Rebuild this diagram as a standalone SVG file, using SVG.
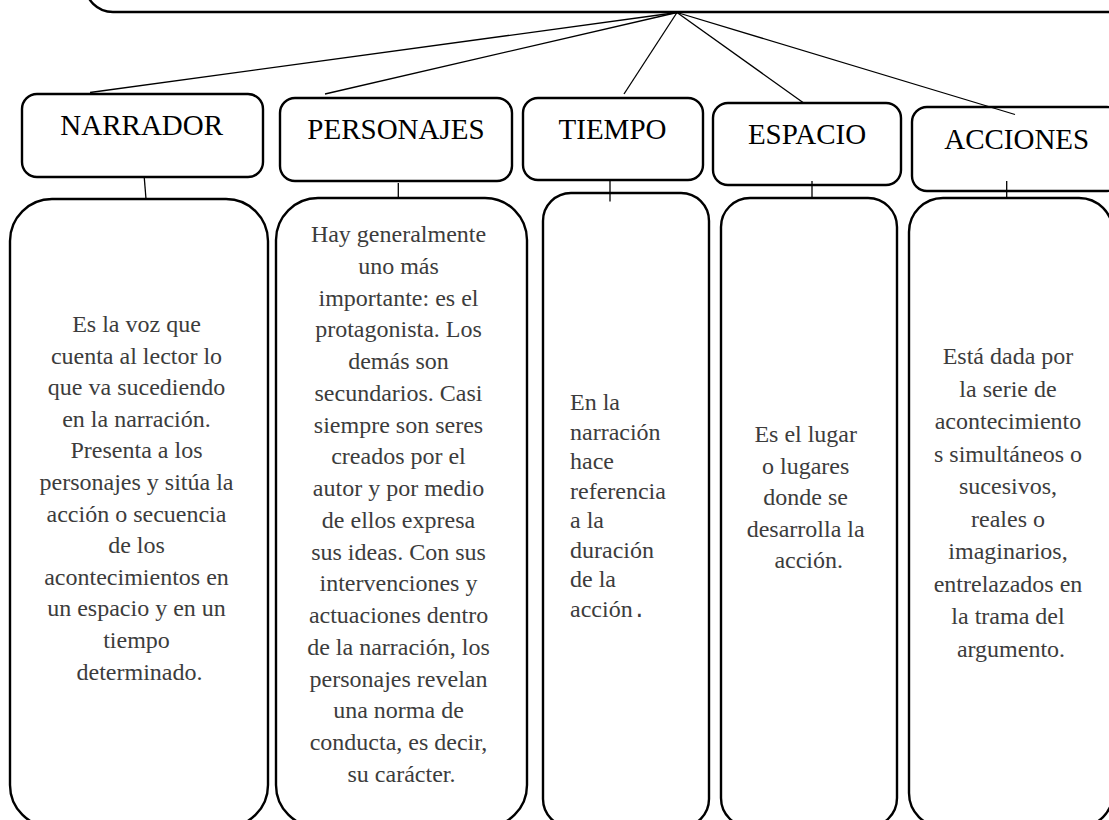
<svg xmlns="http://www.w3.org/2000/svg" width="1109" height="820" viewBox="0 0 1109 820">
<style>
.box{fill:#fff;stroke:#000;stroke-width:2.4}
.con{stroke:#000;stroke-width:1.3;fill:none}
.hd{font-family:"Liberation Serif","Times New Roman",serif;font-size:29px;fill:#000;text-anchor:middle}
.bt{font-family:"Liberation Serif","Times New Roman",serif;font-size:24px;fill:#3c3c3c;text-anchor:middle}
.bl{font-family:"Liberation Serif","Times New Roman",serif;font-size:24px;fill:#3c3c3c}
</style>
<rect width="1109" height="820" fill="#fff"/>
<g id="top">
<rect class="box" x="85" y="-80" width="1100" height="92" rx="28" ry="28"/>
</g>
<g id="h-narrador">
<rect class="box" x="22" y="94" width="241" height="83" rx="15"/>
<text class="hd" x="141.7" y="135">NARRADOR</text>
</g>
<g id="h-personajes">
<rect class="box" x="280" y="98" width="232" height="83" rx="15"/>
<text class="hd" x="396" y="138.5">PERSONAJES</text>
</g>
<g id="h-tiempo">
<rect class="box" x="523" y="98" width="180" height="82" rx="15"/>
<text class="hd" x="612.5" y="138.5">TIEMPO</text>
</g>
<g id="h-espacio">
<rect class="box" x="713" y="103" width="188" height="82" rx="15"/>
<text class="hd" x="807" y="144">ESPACIO</text>
</g>
<g id="h-acciones">
<rect class="box" x="912" y="107" width="210" height="84" rx="15"/>
<text class="hd" x="1016.7" y="148.5">ACCIONES</text>
</g>
<g id="b-narrador">
<rect class="box" x="10" y="199" width="258" height="628" rx="42"/>
<text class="bt">
<tspan x="139.5" y="332">Es la voz que</tspan>
<tspan x="139.5" y="363.6">cuenta al lector lo</tspan>
<tspan x="139.5" y="395.2">que va sucediendo</tspan>
<tspan x="139.5" y="426.8">en la narración.</tspan>
<tspan x="139.5" y="458.4">Presenta a los</tspan>
<tspan x="139.5" y="490">personajes y sitúa la</tspan>
<tspan x="139.5" y="521.6">acción o secuencia</tspan>
<tspan x="139.5" y="553.2">de los</tspan>
<tspan x="139.5" y="584.8">acontecimientos en</tspan>
<tspan x="139.5" y="616.4">un espacio y en un</tspan>
<tspan x="139.5" y="648">tiempo</tspan>
<tspan x="139.5" y="679.6">determinado.</tspan>
</text>
</g>
<g id="b-personajes">
<rect class="box" x="276" y="198" width="251" height="629" rx="42"/>
<text class="bt">
<tspan x="401.5" y="242">Hay generalmente</tspan>
<tspan x="401.5" y="273.8">uno más</tspan>
<tspan x="401.5" y="305.5">importante: es el</tspan>
<tspan x="401.5" y="337.3">protagonista. Los</tspan>
<tspan x="401.5" y="369">demás son</tspan>
<tspan x="401.5" y="400.8">secundarios. Casi</tspan>
<tspan x="401.5" y="432.5">siempre son seres</tspan>
<tspan x="401.5" y="464.3">creados por el</tspan>
<tspan x="401.5" y="496">autor y por medio</tspan>
<tspan x="401.5" y="527.8">de ellos expresa</tspan>
<tspan x="401.5" y="559.5">sus ideas. Con sus</tspan>
<tspan x="401.5" y="591.3">intervenciones y</tspan>
<tspan x="401.5" y="623">actuaciones dentro</tspan>
<tspan x="401.5" y="654.8">de la narración, los</tspan>
<tspan x="401.5" y="686.5">personajes revelan</tspan>
<tspan x="401.5" y="718.3">una norma de</tspan>
<tspan x="401.5" y="750">conducta, es decir,</tspan>
<tspan x="401.5" y="781.8">su carácter.</tspan>
</text>
</g>
<g id="b-tiempo">
<rect class="box" x="543" y="193" width="166" height="634" rx="28"/>
<text class="bl">
<tspan x="570" y="410">En la</tspan>
<tspan x="570" y="439.5">narración</tspan>
<tspan x="570" y="469">hace</tspan>
<tspan x="570" y="498.5">referencia</tspan>
<tspan x="570" y="528">a la</tspan>
<tspan x="570" y="557.5">duración</tspan>
<tspan x="570" y="587">de la</tspan>
<tspan x="570" y="616.5">acción<tspan font-family="'Liberation Mono',monospace" font-size="22">.</tspan></tspan>
</text>
</g>
<g id="b-espacio">
<rect class="box" x="721" y="198" width="176" height="629" rx="29"/>
<text class="bt">
<tspan x="808.7" y="442">Es el lugar</tspan>
<tspan x="808.7" y="473.6">o lugares</tspan>
<tspan x="808.7" y="505.2">donde se</tspan>
<tspan x="808.7" y="536.8">desarrolla la</tspan>
<tspan x="808.7" y="568.4">acción.</tspan>
</text>
</g>
<g id="b-acciones">
<rect class="box" x="909" y="198" width="204" height="629" rx="34"/>
<text class="bt">
<tspan x="1011" y="364">Está dada por</tspan>
<tspan x="1011" y="396.5">la serie de</tspan>
<tspan x="1011" y="429">acontecimiento</tspan>
<tspan x="1011" y="461.5">s simultáneos o</tspan>
<tspan x="1011" y="494">sucesivos,</tspan>
<tspan x="1011" y="526.5">reales o</tspan>
<tspan x="1011" y="559">imaginarios,</tspan>
<tspan x="1011" y="591.5">entrelazados en</tspan>
<tspan x="1011" y="624">la trama del</tspan>
<tspan x="1011" y="656.5">argumento.</tspan>
</text>
</g>
<g id="connectors">
<line class="con" x1="677" y1="12.5" x2="90" y2="92.5"/>
<line class="con" x1="677" y1="12.5" x2="325" y2="94"/>
<line class="con" x1="677" y1="12.5" x2="624" y2="94"/>
<line class="con" x1="677" y1="12.5" x2="803" y2="102.5"/>
<line class="con" x1="677" y1="12.5" x2="1015" y2="114.5"/>
<line class="con" x1="144.3" y1="178" x2="146" y2="199"/>
<line class="con" x1="398.3" y1="183" x2="398.3" y2="198"/>
<line class="con" x1="610" y1="180" x2="610" y2="201.5"/>
<line class="con" x1="812" y1="181" x2="812" y2="198"/>
<line class="con" x1="1006.7" y1="181" x2="1006.7" y2="198"/>
</g>
</svg>
